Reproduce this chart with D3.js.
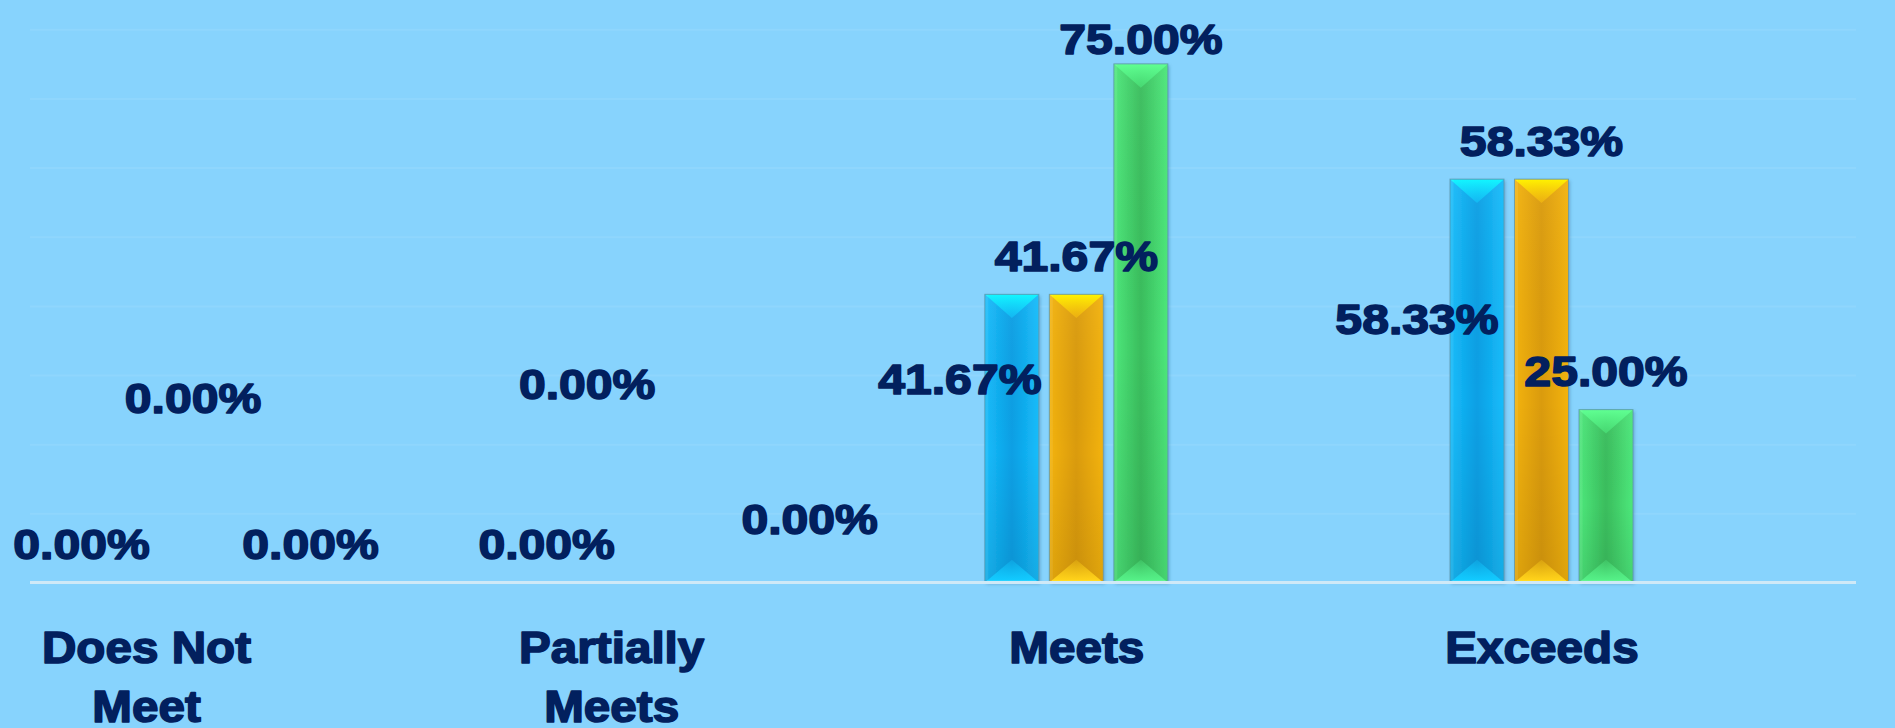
<!DOCTYPE html>
<html>
<head>
<meta charset="utf-8">
<script src="https://cdn.jsdelivr.net/npm/d3@7"></script>
<style>
  html, body { margin: 0; padding: 0; background: #87d3fd; overflow: hidden; }
  svg { display: block; }
</style>
</head>
<body>
<svg id="chart" width="1895" height="728"></svg>
<script>
// ---------- data ----------
const categories = ["Does Not Meet", "Partially Meets", "Meets", "Exceeds"];
const seriesNames = ["Series 1", "Series 2", "Series 3"];
const series1 = [0, 0, 0.4167, 0.5833];
const series2 = [0, 0, 0.4167, 0.5833];
const series3 = [0, 0, 0.75, 0.25];
const valueTicks = [0, 0.1, 0.2, 0.3, 0.4, 0.5, 0.6, 0.7, 0.8];

// label layout (collision-avoided positions of the original): [dx, dy] in px from default "outside end"
const labelNudges = [
  [[0, 0], [47, -146], [100, 0]],
  [[0, 0], [-24, -160], [134, -25]],
  [[-52, 123], [0, 0], [0, 14]],
  [[-60, 178], [0, 0], [0, 0]]
];

const seriesValues = [series1, series2, series3];
const palette = [
  { side: "#17bdfb", mid: "#0a9fe4", top: "#12f7ff", topEnd: "#13c6fb", bot: "#12caff", botLine: "#62e6ff" },
  { side: "#f3b30e", mid: "#da9b0b", top: "#fff300", topEnd: "#f7bb10", bot: "#ffd21a", botLine: "#fff23a" },
  { side: "#4de87b", mid: "#3abd5d", top: "#60ff92", topEnd: "#4ce87c", bot: "#55f087", botLine: "#7dffa8" }
];

const svg = d3.select("#chart");
const defs = svg.append("defs");

const y = d3.scaleLinear().domain([0, 0.8]).range([582.5, 29.3]);
const x = d3.scalePoint().domain(categories).range([146, 1541.5]);
const xInner = d3.scaleBand().domain(seriesNames).range([-91.5, 91.5]).paddingInner(0.163).paddingOuter(0);
const gridLeft = 30, gridRight = 1856;
const textColor = "#02205e";
const fontFam = "'Liberation Sans', Arial, sans-serif";

// gradients
palette.forEach((p, i) => {
  const h = defs.append("linearGradient").attr("id", "h" + i).attr("x1", 0).attr("x2", 1).attr("y1", 0).attr("y2", 0);
  h.append("stop").attr("offset", "0%").attr("stop-color", p.side);
  h.append("stop").attr("offset", "50%").attr("stop-color", p.mid);
  h.append("stop").attr("offset", "100%").attr("stop-color", p.side);
  const v = defs.append("linearGradient").attr("id", "v" + i).attr("x1", 0).attr("x2", 0).attr("y1", 0).attr("y2", 1);
  v.append("stop").attr("offset", "0%").attr("stop-color", "#fff").attr("stop-opacity", 0.04);
  v.append("stop").attr("offset", "55%").attr("stop-color", "#000").attr("stop-opacity", 0.0);
  v.append("stop").attr("offset", "100%").attr("stop-color", "#000").attr("stop-opacity", 0.08);
  const t = defs.append("linearGradient").attr("id", "t" + i).attr("x1", 0).attr("x2", 0).attr("y1", 0).attr("y2", 1);
  t.append("stop").attr("offset", "0%").attr("stop-color", p.top);
  t.append("stop").attr("offset", "100%").attr("stop-color", p.topEnd).attr("stop-opacity", 0.6);
  const b = defs.append("linearGradient").attr("id", "b" + i).attr("x1", 0).attr("x2", 0).attr("y1", 1).attr("y2", 0);
  b.append("stop").attr("offset", "0%").attr("stop-color", p.botLine);
  b.append("stop").attr("offset", "12%").attr("stop-color", p.bot);
  b.append("stop").attr("offset", "100%").attr("stop-color", p.bot).attr("stop-opacity", 0.25);
});
const f = defs.append("filter").attr("id", "shadow").attr("x", "-20%").attr("y", "-5%").attr("width", "140%").attr("height", "110%");
f.append("feDropShadow").attr("dx", 1.5).attr("dy", 1.5).attr("stdDeviation", 1.5).attr("flood-color", "#2a5c80").attr("flood-opacity", 0.35);

// gridlines via axis
const gGrid = svg.append("g").attr("transform", `translate(${gridLeft},0)`)
  .call(d3.axisRight(y).tickValues(valueTicks).tickSize(gridRight - gridLeft).tickFormat(""));
gGrid.selectAll(".domain").remove();
gGrid.selectAll(".tick line").attr("stroke", "#ffffff").attr("stroke-opacity", 0.07).attr("stroke-width", 2);
gGrid.selectAll(".tick").filter(d => d === 0).remove();

// bars
const data = [];
categories.forEach((c, ci) => {
  seriesNames.forEach((s, si) => {
    data.push({ cat: c, ci, series: s, si, value: seriesValues[si][ci] });
  });
});

const barG = svg.append("g");
const bars = barG.selectAll("g.bar").data(data.filter(d => d.value > 0)).join("g")
  .attr("class", "bar")
  .attr("transform", d => `translate(${x(d.cat) + xInner(d.series)},${y(d.value)})`);

const bw = xInner.bandwidth();
bars.append("rect")
  .attr("width", bw).attr("height", d => y(0) - y(d.value))
  .attr("fill", d => `url(#h${d.si})`)
  .attr("filter", "url(#shadow)");
bars.append("rect")
  .attr("width", bw).attr("height", d => y(0) - y(d.value))
  .attr("fill", d => `url(#v${d.si})`);
// top bevel triangle
bars.append("path")
  .attr("d", d => { const h = Math.min(bw * 0.44, (y(0) - y(d.value)) / 2); return `M0,0 L${bw},0 L${bw / 2},${h} Z`; })
  .attr("fill", d => `url(#t${d.si})`);
// bottom bevel triangle
bars.append("path")
  .attr("d", d => { const H0 = y(0) - y(d.value); const h = Math.min(bw * 0.42, H0 / 2); return `M0,${H0} L${bw},${H0} L${bw / 2},${H0 - h} Z`; })
  .attr("fill", d => `url(#b${d.si})`);
// side highlight
bars.append("rect")
  .attr("x", 0.5).attr("width", 3).attr("height", d => y(0) - y(d.value))
  .attr("fill", "#fff").attr("opacity", 0.08);
bars.append("rect")
  .attr("width", bw).attr("height", d => y(0) - y(d.value))
  .attr("fill", "none").attr("stroke", "#5f97ad").attr("stroke-opacity", 0.8).attr("stroke-width", 1);

// baseline
svg.append("line")
  .attr("x1", gridLeft).attr("x2", gridRight).attr("y1", y(0)).attr("y2", y(0))
  .attr("stroke", "#cfe9f7").attr("stroke-width", 3);

// category axis
const xAxis = d3.axisBottom(x).tickSize(0).tickPadding(0);
const gx = svg.append("g").attr("transform", `translate(0,${y(0)})`).call(xAxis);
gx.select(".domain").remove();
function wrapWords(t, maxChars) {
  const words = t.split(" ");
  const lines = [];
  let cur = "";
  words.forEach(w => {
    const test = cur ? cur + " " + w : w;
    if (test.length > maxChars && cur) { lines.push(cur); cur = w; } else cur = test;
  });
  lines.push(cur);
  return lines;
}
gx.selectAll(".tick text").each(function (d) {
  const t = d3.select(this);
  t.text(null).attr("y", null).attr("dy", null)
    .attr("fill", textColor)
    .attr("font-family", fontFam)
    .attr("font-weight", "bold")
    .attr("font-size", 43.5)
    .attr("stroke", textColor).attr("stroke-width", 1.6).attr("stroke-linejoin", "round")
    .attr("text-anchor", "middle")
    .attr("transform", "scale(1.095,1)");
  wrapWords(d, 10).forEach((line, i) => {
    t.append("tspan").attr("x", 0).attr("y", 80.5 + i * 59).text(line);
  });
});

// value labels
const fmt = d3.format(".2%");
svg.append("g").selectAll("text").data(data).join("text")
  .attr("transform", d => {
    const n = labelNudges[d.ci][d.si];
    const cx = x(d.cat) + xInner(d.series) + bw / 2 + n[0];
    const by = y(d.value) - 23.5 + n[1];
    return `translate(${cx},${by}) scale(1.12,1)`;
  })
  .attr("text-anchor", "middle")
  .attr("fill", textColor)
  .attr("stroke", textColor).attr("stroke-width", 1.6).attr("stroke-linejoin", "round")
  .attr("font-family", fontFam)
  .attr("font-weight", "bold")
  .attr("font-size", 43)
  .text(d => fmt(d.value));
</script>
</body>
</html>
